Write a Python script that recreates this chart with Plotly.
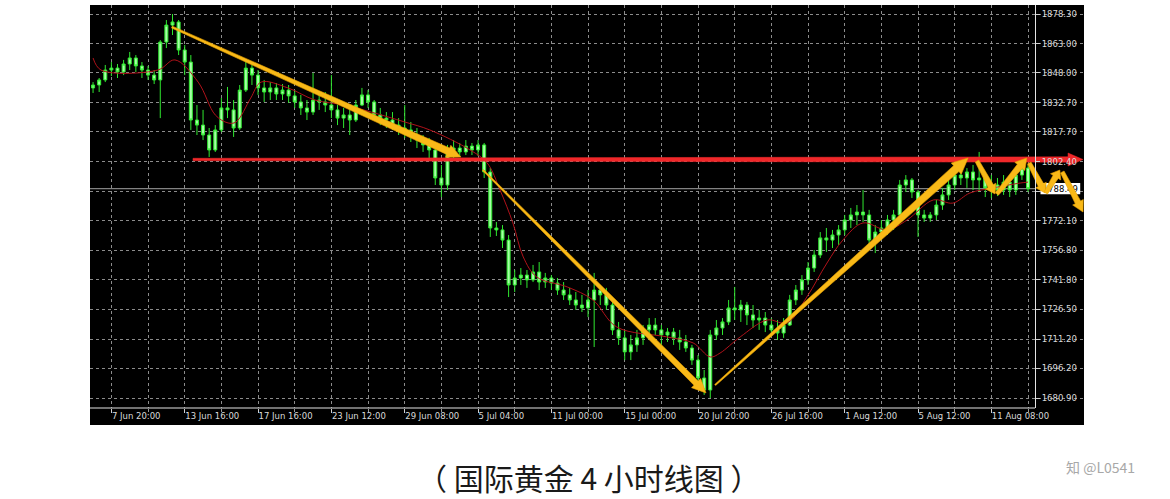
import math
import plotly.graph_objects as go

# ---------------- data ----------------
bar_idx = list(range(154))

opens = [
    1840.3, 1841.8, 1844.4, 1849.5, 1850.5, 1848.5, 1852.6, 1855.7, 1851.6, 1849.5,
    1846.9, 1844.4, 1863.9, 1872.6, 1874.2, 1859.8, 1853.6, 1823.8, 1821.2, 1816.1,
    1808.4, 1818.7, 1830.0, 1829.0, 1819.7, 1839.2, 1850.5, 1846.9, 1840.3, 1838.2,
    1840.3, 1837.2, 1839.2, 1836.2, 1833.1, 1830.0, 1827.9, 1834.1, 1833.1, 1831.5,
    1829.0, 1824.8, 1826.4, 1823.8, 1831.5, 1836.7, 1833.1, 1826.4, 1824.8, 1823.8,
    1821.2, 1819.7, 1818.7, 1816.1, 1813.5, 1811.0, 1808.4, 1794.0, 1790.4, 1808.4,
    1809.4, 1807.4, 1810.4, 1808.4, 1811.0, 1797.1, 1768.3, 1767.3, 1762.1, 1739.0,
    1742.6, 1744.1, 1741.6, 1745.7, 1740.5, 1742.6, 1740.0, 1736.4, 1733.9, 1731.3,
    1728.7, 1727.2, 1731.3, 1736.4, 1733.9, 1728.7, 1715.9, 1711.8, 1704.6, 1708.2,
    1711.8, 1715.9, 1718.4, 1715.9, 1713.3, 1714.8, 1711.8, 1709.7, 1706.6, 1700.4,
    1691.2, 1685.0, 1713.3, 1716.9, 1720.0, 1727.2, 1726.2, 1728.7, 1723.6, 1721.0,
    1722.0, 1718.4, 1715.9, 1714.3, 1718.4, 1731.3, 1736.4, 1741.6, 1747.7, 1754.4,
    1763.2, 1762.1, 1764.7, 1767.3, 1772.4, 1775.0, 1776.5, 1775.0, 1762.1, 1766.2,
    1768.3, 1772.4, 1775.0, 1790.4, 1793.0, 1786.8, 1775.0, 1773.4, 1775.0, 1780.1,
    1785.3, 1790.4, 1795.5, 1794.0, 1797.1, 1793.0, 1794.0, 1788.9, 1790.4, 1787.8,
    1791.9, 1787.8, 1795.5, 1799.1,
]

highs = [
    1843.3, 1845.4, 1852.1, 1853.6, 1852.6, 1854.7, 1858.8, 1857.2, 1853.6, 1851.6,
    1849.5, 1864.9, 1875.2, 1878.3, 1875.2, 1862.4, 1857.2, 1831.5, 1829.0, 1819.7,
    1821.2, 1835.1, 1840.8, 1834.1, 1841.8, 1854.7, 1853.6, 1849.5, 1844.4, 1843.3,
    1842.8, 1842.3, 1841.8, 1839.2, 1836.7, 1834.1, 1848.0, 1836.7, 1838.2, 1846.9,
    1831.5, 1830.0, 1830.0, 1834.1, 1840.3, 1839.2, 1834.1, 1830.0, 1827.9, 1827.9,
    1824.8, 1831.5, 1822.8, 1819.7, 1816.1, 1814.6, 1809.4, 1800.7, 1811.0, 1813.5,
    1812.0, 1813.5, 1812.0, 1813.5, 1812.0, 1799.1, 1771.4, 1769.8, 1764.7, 1746.7,
    1747.7, 1746.7, 1749.3, 1750.8, 1745.2, 1744.1, 1742.6, 1740.5, 1737.5, 1735.4,
    1733.9, 1736.4, 1745.2, 1739.0, 1737.5, 1731.3, 1720.0, 1715.9, 1713.3, 1715.9,
    1718.4, 1722.0, 1722.0, 1718.4, 1716.9, 1716.9, 1715.9, 1713.3, 1708.2, 1703.0,
    1695.3, 1715.9, 1721.0, 1722.0, 1731.3, 1738.0, 1731.3, 1730.3, 1728.7, 1726.2,
    1725.1, 1722.0, 1721.0, 1722.0, 1733.9, 1739.0, 1744.1, 1750.8, 1757.0, 1766.2,
    1768.3, 1767.3, 1769.8, 1775.0, 1778.6, 1780.1, 1787.8, 1777.6, 1769.8, 1772.4,
    1775.0, 1777.6, 1793.0, 1795.5, 1794.0, 1787.8, 1777.6, 1776.5, 1782.7, 1788.9,
    1793.0, 1798.1, 1800.7, 1799.1, 1800.7, 1807.4, 1797.1, 1795.5, 1794.0, 1795.5,
    1794.0, 1798.1, 1802.2, 1800.7,
]

lows = [
    1837.7, 1838.2, 1843.3, 1846.4, 1845.4, 1846.9, 1849.5, 1848.5, 1845.4, 1844.4,
    1842.3, 1824.8, 1860.8, 1867.5, 1857.2, 1846.9, 1818.7, 1816.1, 1813.5, 1804.8,
    1807.4, 1817.6, 1824.8, 1815.1, 1818.7, 1838.2, 1841.8, 1836.7, 1833.1, 1834.1,
    1834.1, 1834.1, 1832.6, 1830.0, 1826.4, 1823.8, 1826.4, 1829.0, 1827.9, 1824.8,
    1821.2, 1819.7, 1816.1, 1822.8, 1831.0, 1830.0, 1823.8, 1821.2, 1819.7, 1818.7,
    1816.1, 1814.6, 1812.5, 1809.4, 1807.4, 1803.3, 1790.4, 1784.2, 1787.8, 1804.3,
    1805.3, 1805.8, 1805.8, 1805.3, 1794.0, 1763.7, 1764.2, 1758.0, 1732.8, 1735.4,
    1739.0, 1737.5, 1740.5, 1736.4, 1737.5, 1736.4, 1733.9, 1731.3, 1728.7, 1726.2,
    1725.1, 1722.5, 1707.1, 1728.7, 1726.2, 1713.3, 1708.2, 1700.4, 1700.4, 1704.6,
    1708.2, 1710.7, 1713.3, 1708.2, 1709.7, 1708.2, 1705.6, 1704.6, 1697.9, 1687.6,
    1682.5, 1680.9, 1710.7, 1713.3, 1718.4, 1721.0, 1720.0, 1718.4, 1716.9, 1715.9,
    1714.8, 1713.3, 1710.7, 1711.8, 1717.9, 1728.7, 1733.9, 1739.0, 1745.7, 1752.9,
    1756.0, 1758.0, 1759.6, 1764.7, 1768.3, 1769.8, 1771.4, 1757.0, 1755.4, 1762.1,
    1764.7, 1767.3, 1773.4, 1786.8, 1783.7, 1763.7, 1771.4, 1771.4, 1772.4, 1777.6,
    1782.7, 1787.8, 1790.4, 1788.9, 1787.8, 1786.8, 1784.2, 1783.7, 1784.7, 1785.3,
    1784.2, 1785.3, 1793.0, 1786.8,
]

closes = [
    1841.8, 1844.4, 1849.5, 1850.5, 1848.5, 1852.6, 1855.7, 1851.6, 1849.5, 1846.9,
    1844.4, 1863.9, 1872.6, 1874.2, 1859.8, 1853.6, 1823.8, 1821.2, 1816.1, 1808.4,
    1818.7, 1830.0, 1829.0, 1819.7, 1839.2, 1850.5, 1846.9, 1840.3, 1838.2, 1840.3,
    1837.2, 1839.2, 1836.2, 1833.1, 1830.0, 1827.9, 1834.1, 1833.1, 1831.5, 1829.0,
    1824.8, 1826.4, 1823.8, 1831.5, 1836.7, 1833.1, 1826.4, 1824.8, 1823.8, 1821.2,
    1819.7, 1818.7, 1816.1, 1813.5, 1811.0, 1808.4, 1794.0, 1790.4, 1808.4, 1809.4,
    1807.4, 1810.4, 1808.4, 1811.0, 1797.1, 1768.3, 1767.3, 1762.1, 1739.0, 1742.6,
    1744.1, 1741.6, 1745.7, 1740.5, 1742.6, 1740.0, 1736.4, 1733.9, 1731.3, 1728.7,
    1727.2, 1731.3, 1736.4, 1733.9, 1728.7, 1715.9, 1711.8, 1704.6, 1708.2, 1711.8,
    1715.9, 1718.4, 1715.9, 1713.3, 1714.8, 1711.8, 1709.7, 1706.6, 1700.4, 1691.2,
    1685.0, 1713.3, 1716.9, 1720.0, 1727.2, 1726.2, 1728.7, 1723.6, 1721.0, 1722.0,
    1718.4, 1715.9, 1714.3, 1718.4, 1731.3, 1736.4, 1741.6, 1747.7, 1754.4, 1763.2,
    1762.1, 1764.7, 1767.3, 1772.4, 1775.0, 1776.5, 1775.0, 1762.1, 1766.2, 1768.3,
    1772.4, 1775.0, 1790.4, 1793.0, 1786.8, 1775.0, 1773.4, 1775.0, 1780.1, 1785.3,
    1790.4, 1795.5, 1794.0, 1797.1, 1793.0, 1794.0, 1788.9, 1790.4, 1787.8, 1791.9,
    1787.8, 1795.5, 1799.1, 1788.49,
]

ma_idx = [0, 1.3, 10.6, 13.4, 17.2, 20.0, 22.1, 23.4, 25.8, 27.5, 31.9, 36.3, 41.2, 45.5,
          51.0, 55.1, 61.7, 64.5, 66.6, 68.7, 70.4, 72.6, 77.6, 81.8, 85.7, 93.9, 98.2,
          101.0, 102.6, 105.9, 110.3, 113.6, 116.8, 120.1, 122.7, 126.0, 129.9, 133.2,
          137.5, 140.7, 143.5, 147.3, 151.7, 153]
ma_val = [1855.7, 1849.5, 1849.5, 1854.7, 1843.3, 1826.4, 1822.3, 1822.8, 1835.1, 1843.3,
          1840.3, 1834.1, 1831.5, 1827.9, 1822.8, 1818.7, 1808.4, 1801.7, 1787.8, 1770.9,
          1753.4, 1743.1, 1738.0, 1731.3, 1717.4, 1712.3, 1709.2, 1702.0, 1704.0, 1712.3,
          1721.0, 1719.5, 1732.8, 1750.3, 1762.1, 1770.9, 1767.3, 1772.4, 1782.7, 1781.1,
          1786.3, 1788.9, 1791.4, 1791.9]

y_tick_vals = [1878.30, 1863.00, 1848.00, 1832.70, 1817.70, 1802.40, 1787.10,
               1772.10, 1756.80, 1741.80, 1726.50, 1711.20, 1696.20, 1680.90]
y_tick_text = ["1878.30", "1863.00", "1848.00", "1832.70", "1817.70", "1802.40", "",
               "1772.10", "1756.80", "1741.80", "1726.50", "1711.20", "1696.20", "1680.90"]

x_tick_pos = [3, 15, 27, 39, 51, 63, 75, 87, 99, 111, 123, 135, 147]
x_tick_text = ["7 Jun 20:00", "13 Jun 16:00", "17 Jun 16:00", "23 Jun 12:00",
               "29 Jun 08:00", "5 Jul 04:00", "11 Jul 00:00", "15 Jul 00:00",
               "20 Jul 20:00", "26 Jul 16:00", "1 Aug 12:00", "5 Aug 12:00",
               "11 Aug 08:00"]
x_minor_pos = [9, 21, 33, 45, 57, 69, 81, 93, 105, 117, 129, 141, 153]

last_price = 1788.49
resistance = 1803.5

# hand-drawn arrows (bar index, price)
yellow_from_x = [12.9, 63.8, 101.8, 144.65, 147.9, 153.2, 155.9, 158.6]
yellow_from_y = [1871.6, 1798.1, 1687.6, 1802.7, 1785.8, 1801.7, 1786.3, 1797.1]
yellow_to_x = [60.2, 100.3, 143.2, 147.6, 152.8, 155.8, 158.2, 162.0]
yellow_to_y = [1804.8, 1683.5, 1804.3, 1785.8, 1804.3, 1786.3, 1798.1, 1776.5]
red_from_x, red_to_x = 16.35, 162.0

caption = "（ 国际黄金 4 小时线图 ）"
watermark = "知 @L0541"

# ---------------- styles / layout constants ----------------
yellow_w0 = [1.0, 0.7, 0.7, 2.0, 2.0, 2.0, 2.0, 2.0]
yellow_w1 = [3.5, 3.0, 4.0, 3.0, 3.2, 3.0, 3.0, 3.0]
yellow_hw = [6.5, 6.5, 7.5, 6.0, 6.5, 6.0, 6.0, 6.0]
yellow_hl = [14, 14, 16, 9, 11, 9, 8, 11]

W, H = 1170, 499
ML, MR, MT, MB = 90, 86, 5, 91
PLOT_W = W - ML - MR
PLOT_H = H - MT - MB
BAR_PX = 6.111
X_MIN = -0.5
X_MAX = X_MIN + PLOT_W / BAR_PX
Y_MIN, Y_MAX = 1675.76, 1882.93
AXIS_PX = 945
AXIS_X = X_MIN + AXIS_PX / BAR_PX
KX = BAR_PX
KY = PLOT_H / (Y_MAX - Y_MIN)

GREEN_LINE = "#2fe82f"
GREEN_FILL = "#a6ffa6"
YELLOW = "#f9b918"
YELLOW_EDGE = "#eaa200"
RED = "#f0282a"
GRID = "#8c8c8c"
LABEL = "#dadada"


def arrow_polygon(x0, y0, x1, y1, w0, w1, hw, hl):
    X0, Y0, X1, Y1 = x0 * KX, y0 * KY, x1 * KX, y1 * KY
    dx, dy = X1 - X0, Y1 - Y0
    L = math.hypot(dx, dy)
    ux, uy = dx / L, dy / L
    nx, ny = -uy, ux
    NX, NY = X1 - ux * hl, Y1 - uy * hl
    pts = [(X0 + nx * w0, Y0 + ny * w0), (NX + nx * w1, NY + ny * w1),
           (NX + nx * hw, NY + ny * hw), (X1, Y1),
           (NX - nx * hw, NY - ny * hw), (NX - nx * w1, NY - ny * w1),
           (X0 - nx * w0, Y0 - ny * w0), (X0 + nx * w0, Y0 + ny * w0)]
    return [p[0] / KX for p in pts], [p[1] / KY for p in pts]


fig = go.Figure()

fig.add_trace(go.Candlestick(
    x=bar_idx, open=opens, high=highs, low=lows, close=closes,
    increasing=dict(line=dict(color=GREEN_LINE, width=1), fillcolor=GREEN_FILL),
    decreasing=dict(line=dict(color=GREEN_LINE, width=1), fillcolor=GREEN_FILL),
    whiskerwidth=0, showlegend=False, hoverinfo="skip",
))

fig.add_trace(go.Scatter(
    x=ma_idx, y=ma_val, mode="lines", line=dict(color="#b0121a", width=1, shape="spline"),
    hoverinfo="skip", showlegend=False,
))

# red resistance arrow
rx, ry = arrow_polygon(red_from_x, resistance, red_to_x, resistance, 1.2, 2.7, 6.5, 15)
fig.add_trace(go.Scatter(x=rx, y=ry, mode="lines", fill="toself", fillcolor=RED,
                         line=dict(color=RED, width=0.5), hoverinfo="skip", showlegend=False))

for k in range(len(yellow_from_x)):
    ax, ay = arrow_polygon(yellow_from_x[k], yellow_from_y[k], yellow_to_x[k], yellow_to_y[k],
                           yellow_w0[k], yellow_w1[k], yellow_hw[k], yellow_hl[k])
    fig.add_trace(go.Scatter(x=ax, y=ay, mode="lines", fill="toself", fillcolor=YELLOW,
                             line=dict(color=YELLOW_EDGE, width=0.6), hoverinfo="skip",
                             showlegend=False))

shapes = [
    # black strip under plot area (behind x labels)
    dict(type="rect", xref="paper", yref="paper", x0=0, x1=1, y0=-17 / PLOT_H, y1=0,
         fillcolor="black", line=dict(width=0), layer="below"),
    # hide horizontal grid right of price axis
    dict(type="rect", xref="x", yref="paper", x0=AXIS_X + 0.05, x1=X_MAX + 1, y0=0, y1=1,
         fillcolor="black", line=dict(width=0), layer="between"),
    # bid line
    dict(type="line", xref="x", yref="y", x0=X_MIN, x1=AXIS_X, y0=last_price, y1=last_price,
         line=dict(color="#a4a4a4", width=1), layer="between"),
    # price box
    dict(type="rect", xref="x", yref="y", x0=AXIS_X + 0.9, x1=AXIS_X + 7.4,
         y0=last_price - 2.9, y1=last_price + 2.9, fillcolor="white",
         line=dict(width=0), layer="between",
         label=dict(text=f"{last_price:.2f}", font=dict(color="black", size=8.5,
                                                          family="DejaVu Sans"))),
    # bottom axis line
    dict(type="line", xref="x", yref="paper", x0=X_MIN, x1=AXIS_X, y0=0, y1=0,
         line=dict(color="#e4e4e4", width=1), layer="above"),
]

fig.update_layout(
    width=W, height=H,
    margin=dict(l=ML, r=MR, t=MT, b=MB, pad=0),
    paper_bgcolor="white", plot_bgcolor="black",
    showlegend=False, hovermode=False,
    font=dict(family="DejaVu Sans", size=8.5, color=LABEL),
    shapes=shapes,
    xaxis=dict(
        range=[X_MIN, X_MAX], rangeslider=dict(visible=False),
        tickmode="array", tickvals=x_tick_pos, ticktext=x_tick_text,
        ticklabelposition="outside right", ticks="outside", ticklen=4,
        tickcolor="#d0d0d0", tickfont=dict(color=LABEL, size=8.5, family="DejaVu Sans"),
        showgrid=True, gridcolor=GRID, griddash="dot", gridwidth=1,
        minor=dict(tickmode="array", tickvals=x_minor_pos, showgrid=True, gridcolor=GRID,
                   griddash="dot", gridwidth=1, ticks="outside", ticklen=3,
                   tickcolor="#9a9a9a"),
        showline=False, zeroline=False, fixedrange=True,
    ),
    yaxis=dict(
        range=[Y_MIN, Y_MAX], anchor="free", position=AXIS_PX / PLOT_W, side="right",
        tickmode="array", tickvals=y_tick_vals, ticktext=y_tick_text,
        ticks="outside", ticklen=4, tickcolor="#d0d0d0",
        tickfont=dict(color=LABEL, size=8.5, family="DejaVu Sans"),
        showline=True, linecolor="#e4e4e4", linewidth=1,
        showgrid=True, gridcolor=GRID, griddash="dot", gridwidth=1,
        zeroline=False, fixedrange=True,
    ),
    annotations=[
        dict(text=caption, xref="paper", yref="paper",
             x=(589 - ML) / PLOT_W, y=(PLOT_H + MT - 477) / PLOT_H,
             xanchor="center", yanchor="middle", showarrow=False,
             font=dict(family="Noto Sans CJK SC", size=30, color="#1a1a1a")),
        dict(text=watermark, xref="paper", yref="paper",
             x=(1100 - ML) / PLOT_W, y=(PLOT_H + MT - 467) / PLOT_H,
             xanchor="center", yanchor="middle", showarrow=False,
             font=dict(family="Noto Sans CJK SC", size=14, color="#a8a8a8")),
    ],
)

fig.write_html("out.html", config={"displayModeBar": False},
               post_script="document.body.style.margin='0';document.body.style.padding='0';")
